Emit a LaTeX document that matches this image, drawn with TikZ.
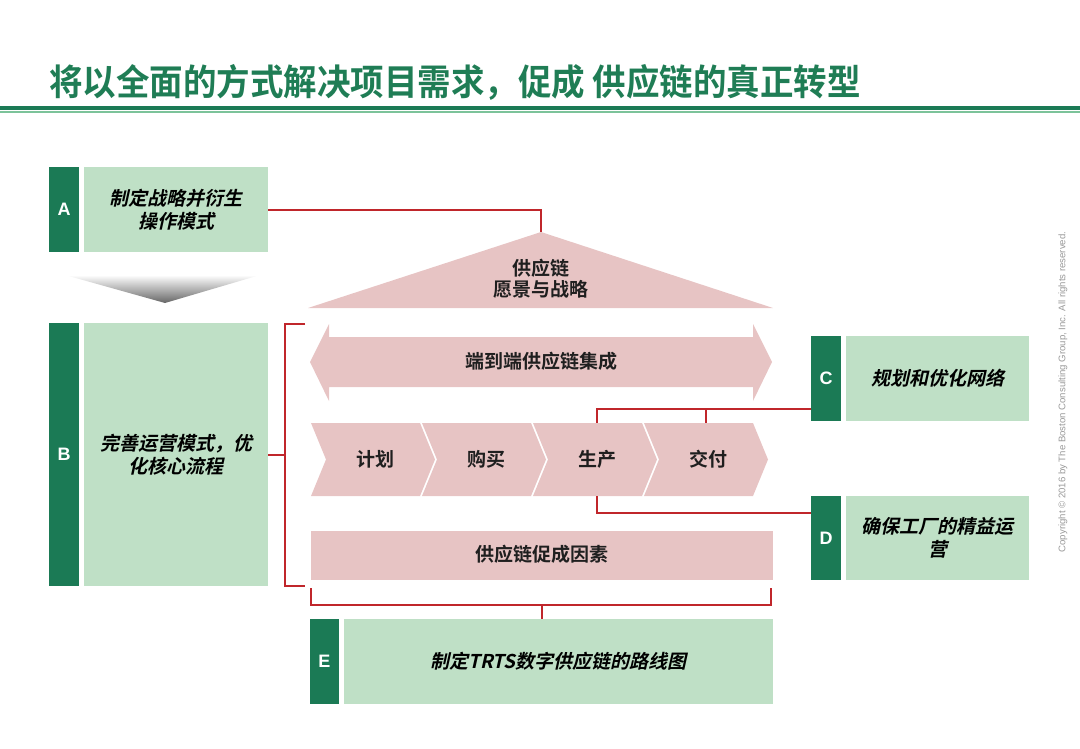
\documentclass[tikz,border=0pt]{standalone}
\usepackage{fontspec}
\setmainfont{Noto Sans CJK SC}
\newfontfamily\cjkb{Noto Sans CJK SC Bold}
\newfontfamily\cjkbi{Noto Sans CJK SC Bold}[FakeSlant=0.22]
\newfontfamily\arialb{Liberation Sans Bold}
\newfontfamily\arialr{Liberation Sans}
\definecolor{dgreen}{HTML}{1B7A55}
\definecolor{lgreen}{HTML}{BFE0C6}
\definecolor{pinkf}{HTML}{E7C4C4}
\definecolor{redl}{HTML}{C0262B}
\definecolor{tgreen}{HTML}{1F7D55}
\definecolor{rulelight}{HTML}{7CC39A}
\begin{document}
\begin{tikzpicture}[x=1pt,y=-1pt,
  tabbox/.style={fill=dgreen, text=white, font=\arialb\fontsize{18}{20}\selectfont, inner sep=0pt, minimum width=30pt},
  lbox/.style={fill=lgreen, font=\cjkbi\fontsize{19}{23}\selectfont, inner sep=0pt, align=center, text=black},
  pk/.style={fill=pinkf},
  lbl/.style={font=\cjkb\fontsize{19}{21}\selectfont, align=center, text=black!88},
  rl/.style={draw=redl, line width=2pt}]
\useasboundingbox (0,0) rectangle (1080,748);
% title
\node[anchor=west, inner sep=0pt, text=tgreen, font=\cjkb\fontsize{34}{36}\selectfont, yscale=1.06, xscale=0.985] (title) at (49,82) {将以全面的方式解决项目需求，促成 供应链的真正转型};
\draw[dgreen, line width=4pt] (0,108) -- (1080,108);
\draw[rulelight, line width=2pt] (0,111.5) -- (1080,111.5);
% A
\node[tabbox, minimum height=85pt] (Atab) at (64,209.5) {A};
\node[lbox, minimum width=184pt, minimum height=85pt] (Abox) at (176,209.5) {制定战略并衍生\\操作模式};
% grey triangle
\shade[top color=white, bottom color=black!60] (65,275) -- (260,275) -- (165,303) -- cycle;
% B
\node[tabbox, minimum height=263pt] (Btab) at (64,454.5) {B};
\node[lbox, minimum width=184pt, minimum height=263pt] (Bbox) at (176,454.5) {完善运营模式，优\\化核心流程};
% vision triangle
\coordinate (apex) at (541,232);
\fill[pinkf] (308,308) -- (apex) -- (773,308) -- cycle;
\node[lbl] (vision) at (541,279) {供应链\\愿景与战略};
% double arrow
\fill[pinkf] (310,362) -- (329,324) -- (329,337) -- (753,337) -- (753,324) -- (772,362) -- (753,401) -- (753,387) -- (329,387) -- (329,401) -- cycle;
\node[lbl] (e2e) at (541,361) {端到端供应链集成};
% chevrons
\foreach \i/\t in {0/计划,1/购买,2/生产,3/交付}{
  \pgfmathsetmacro{\xo}{311+111*\i}
  \fill[pinkf] (\xo,423) -- (\xo+109,423) -- (\xo+124,459.5) -- (\xo+109,496) -- (\xo,496) -- (\xo+15,459.5) -- cycle;
  \node[lbl] (ch\i) at (\xo+64,459) {\t};
}
% enablers
\node[pk, minimum width=462pt, minimum height=49pt, inner sep=0pt] (enab) at (542,555.5) {};
\node[lbl] (enabt) at (542,554) {供应链促成因素};
% C, D
\node[tabbox, minimum height=85pt] (Ctab) at (826,378.5) {C};
\node[lbox, minimum width=183pt, minimum height=85pt] (Cbox) at (937.5,378.5) {规划和优化网络};
\node[tabbox, minimum height=84pt] (Dtab) at (826,538) {D};
\node[lbox, minimum width=183pt, minimum height=84pt] (Dbox) at (937.5,538) {确保工厂的精益运\\营};
% E
\node[tabbox, minimum width=29pt, minimum height=85pt] (Etab) at (324.5,661.5) {E};
\node[lbox, minimum width=429pt, minimum height=85pt] (Ebox) at (558.5,661.5) {制定TRTS数字供应链的路线图};
% connectors
\draw[rl] (Abox.east) -| (apex);
\coordinate (bt) at (305,324);
\coordinate (bb) at (305,586);
\draw[rl] (bt) -- ++(-20,0) |- (bb);
\draw[rl] (Bbox.east) -- ++(17,0);
\coordinate (cj) at (811,409);
\coordinate (c3) at (597,423);
\coordinate (c4) at (706,423);
\draw[rl] (cj) -| (c3);
\draw[rl] (c4 |- cj) -- (c4);
\coordinate (d3) at (597,496);
\coordinate (dj) at (811,513);
\draw[rl] (d3) |- (dj);
\coordinate (ebl) at (311,588);
\coordinate (ebr) at (771,588);
\draw[rl] (ebl) -- ++(0,17) -| (ebr);
\coordinate (estem) at (542,605);
\draw[rl] (estem) -- (estem |- Ebox.north);
% copyright
\node[rotate=90, font=\arialr\fontsize{9.6}{10}\selectfont, text=black!40, inner sep=0pt] (copy) at (1063,392) {Copyright © 2016 by The Boston Consulting Group, Inc. All rights reserved.};
\end{tikzpicture}
\end{document}
